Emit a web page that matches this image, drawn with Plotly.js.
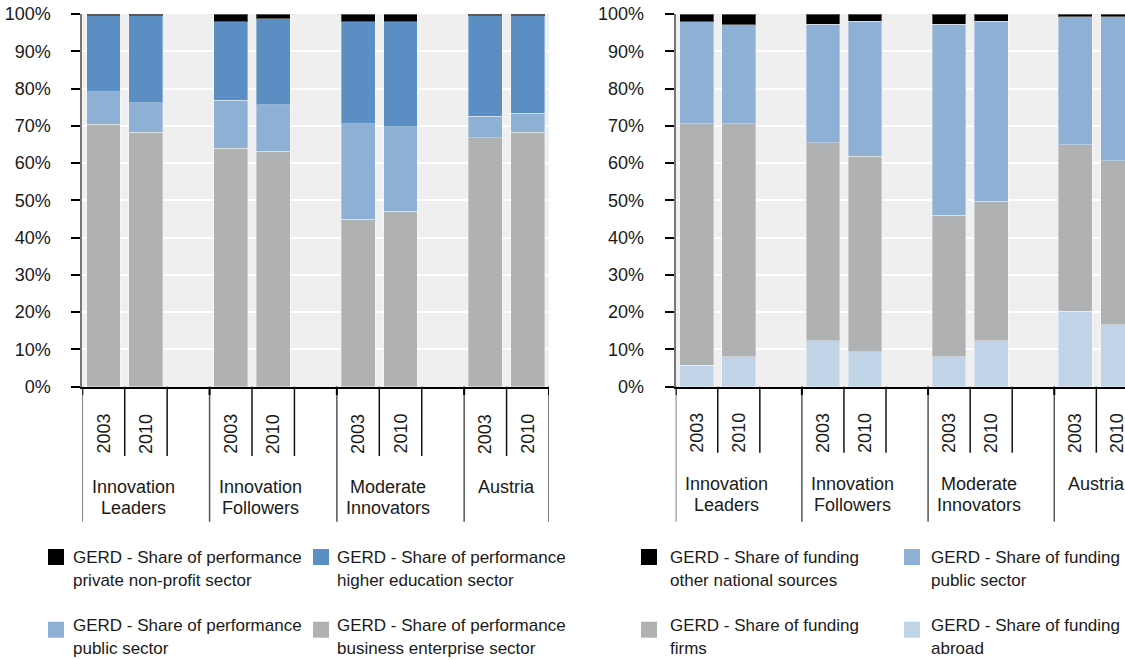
<!DOCTYPE html>
<html>
<head>
<meta charset="utf-8">
<script src="https://cdn.plot.ly/plotly-3.0.1.min.js"></script>
<style>
html, body { margin: 0; padding: 0; overflow: hidden; background: #ffffff; }
#chart { width: 1140px; height: 660px; }
</style>
</head>
<body>
<div id="chart"></div>
<script>
// ---------------- DATA ----------------
const groupLabels = [['Innovation', 'Leaders'], ['Innovation', 'Followers'], ['Moderate', 'Innovators'], ['Austria']];
const years = ['2003', '2010'];

// Left chart: GERD - share of performance (%)
const perfBusiness  = [70.4, 68.3, 64.0, 63.2, 44.9, 47.1, 66.8, 68.3];
const perfPublic    = [8.7, 7.9, 12.9, 12.4, 25.6, 22.6, 5.8, 5.1];
const perfHigherEd  = [20.4, 23.3, 21.0, 23.1, 27.4, 28.2, 26.9, 26.1];
const perfPrivateNP = [0.5, 0.5, 2.1, 1.3, 2.1, 2.1, 0.5, 0.5];

// Right chart: GERD - share of funding (%)
const fundAbroad = [5.8, 8.0, 12.3, 9.4, 8.0, 12.3, 20.3, 16.6];
const fundFirms  = [64.7, 62.5, 53.1, 52.5, 38.0, 37.5, 44.6, 44.0];
const fundPublic = [27.4, 26.6, 31.8, 36.1, 51.2, 48.2, 34.4, 38.7];
const fundOther  = [2.1, 2.9, 2.8, 2.0, 2.8, 2.0, 0.7, 0.7];

const yTickVals = [0, 10, 20, 30, 40, 50, 60, 70, 80, 90, 100];
const yTickText = ['0%', '10%', '20%', '30%', '40%', '50%', '60%', '70%', '80%', '90%', '100%'];

const leftLegend = [
  ['GERD - Share of performance', 'private non-profit sector', '#000000'],
  ['GERD - Share of performance', 'higher education sector', '#5b8ec3'],
  ['GERD - Share of performance', 'public sector', '#8fb0d5'],
  ['GERD - Share of performance', 'business enterprise sector', '#b0b1b3']
];
const rightLegend = [
  ['GERD - Share of funding', 'other national sources', '#000000'],
  ['GERD - Share of funding', 'public sector', '#8fb0d5'],
  ['GERD - Share of funding', 'firms', '#b0b1b3'],
  ['GERD - Share of funding', 'abroad', '#c0d3e7']
];

// ---------------- LAYOUT HELPERS ----------------
const W = 1140, H = 660;
const px = v => v / W;
const py = v => 1 - v / H;
const FONT = "'Liberation Sans', Arial, sans-serif";
const FS = 17;
const TXT = '#1a1a1a';

const COL = { black: '#000000', dblue: '#5b8ec3', mblue: '#8fb0d5', gray: '#b0b1b3', lblue: '#c0d3e7' };

// slot position of each bar: group*3 + yearIndex
const xpos = [];
const xyear = [];
groupLabels.forEach((g, gi) => years.forEach((y, yi) => { xpos.push(gi * 3 + yi); xyear.push(y); }));

function bar(vals, color, name, xa, ya) {
  return {
    type: 'bar', x: xpos, y: vals, name: name, xaxis: xa, yaxis: ya,
    width: 0.8, showlegend: false, hoverinfo: 'skip',
    marker: { color: color, line: { color: 'rgba(255,255,255,0.35)', width: 1 } }
  };
}

const traces = [
  bar(perfBusiness, COL.gray, 'business enterprise sector', 'x', 'y'),
  bar(perfPublic, COL.mblue, 'public sector', 'x', 'y'),
  bar(perfHigherEd, COL.dblue, 'higher education sector', 'x', 'y'),
  bar(perfPrivateNP, COL.black, 'private non-profit sector', 'x', 'y'),
  bar(fundAbroad, COL.lblue, 'abroad', 'x2', 'y2'),
  bar(fundFirms, COL.gray, 'firms', 'x2', 'y2'),
  bar(fundPublic, COL.mblue, 'public sector', 'x2', 'y2'),
  bar(fundOther, COL.black, 'other national sources', 'x2', 'y2')
];

const plotTop = 14, plotBottom = 386.7;
const leftX = [82.3, 549], rightX = [675.7, 1138.4];

function xaxisDef(dom, anchor) {
  return {
    domain: [px(dom[0]), px(dom[1])], range: [-0.5, 10.5], anchor: anchor,
    showticklabels: false, ticks: '', showgrid: false, zeroline: false,
    showline: true, linecolor: '#000000', linewidth: 2, fixedrange: true
  };
}
function yaxisDef(anchor) {
  return {
    domain: [py(plotBottom), py(plotTop)], range: [0, 100], anchor: anchor,
    tickmode: 'array', tickvals: yTickVals, ticktext: yTickText,
    ticks: 'outside', ticklen: 9, tickwidth: 2,
    tickcolor: '#000000', ticklabelstandoff: 17,
    showline: true, linecolor: '#777777', linewidth: 2,
    showgrid: true, gridcolor: '#ffffff', gridwidth: 2, zeroline: false,
    tickfont: { family: FONT, size: FS + 1, color: TXT }, fixedrange: true
  };
}

const shapes = [];
const annotations = [];

function decorate(xa, topY) {
  const longB = [-0.5, 2.5, 5.5, 8.5, 10.5];
  const shortB = [0.5, 1.5, 3.5, 4.5, 6.5, 7.5, 9.5];
  longB.forEach(b => {
    shapes.push({ type: 'line', xref: xa, yref: 'paper', x0: b, x1: b, y0: py(plotBottom), y1: py(521.7),
      line: { color: '#555555', width: 1.5 } });
    shapes.push({ type: 'line', xref: xa, yref: 'paper', x0: b, x1: b, y0: py(plotBottom), y1: py(395),
      line: { color: '#000000', width: 2 } });
  });
  shortB.forEach(b => {
    shapes.push({ type: 'line', xref: xa, yref: 'paper', x0: b, x1: b, y0: py(plotBottom), y1: py(topY.short),
      line: { color: '#111111', width: 1.5 } });
  });
  xpos.forEach((x, i) => {
    annotations.push({ xref: xa, yref: 'paper', x: x, y: py(topY.year), text: xyear[i], textangle: -90,
      showarrow: false, xanchor: 'center', yanchor: 'middle', font: { family: FONT, size: FS + 1, color: TXT } });
  });
  groupLabels.forEach((lines, gi) => {
    const center = gi * 3 + 0.5 + (gi < 3 ? 0.2 : 0);
    lines.forEach((t, li) => {
      annotations.push({ xref: xa, yref: 'paper', x: center, y: py(topY.group[li]), text: t,
        showarrow: false, xanchor: 'center', yanchor: 'middle', font: { family: FONT, size: FS + 1, color: TXT } });
    });
  });
}
decorate('x', { short: 456, year: 434, group: [487, 508] });
decorate('x2', { short: 452.7, year: 433, group: [483.5, 505] });

function legend(items, cols) {
  const rows = [[549, 557.7, 580], [621.7, 625.7, 648]];
  items.forEach((it, i) => {
    const c = cols[i % 2];
    const r = rows[Math.floor(i / 2)];
    shapes.push({ type: 'rect', xref: 'paper', yref: 'paper', x0: px(c[0]), x1: px(c[0] + 16),
      y0: py(r[0]), y1: py(r[0] + 16), fillcolor: it[2], line: { width: 0 } });
    [it[0], it[1]].forEach((t, li) => {
      annotations.push({ xref: 'paper', yref: 'paper', x: px(c[1]), y: py(r[1 + li]), text: t,
        showarrow: false, xanchor: 'left', yanchor: 'middle', font: { family: FONT, size: FS, color: TXT } });
    });
  });
}
legend(leftLegend, [[48, 71], [313, 335]]);
legend(rightLegend, [[641, 668], [904, 929]]);

const layout = {
  width: W, height: H,
  margin: { l: 0, r: 0, t: 0, b: 0 },
  paper_bgcolor: '#ffffff',
  plot_bgcolor: '#efefef',
  barmode: 'stack',
  showlegend: false,
  font: { family: FONT, size: FS, color: TXT },
  xaxis: xaxisDef(leftX, 'y'),
  yaxis: yaxisDef('x'),
  xaxis2: xaxisDef(rightX, 'y2'),
  yaxis2: yaxisDef('x2'),
  shapes: shapes,
  annotations: annotations
};

Plotly.newPlot('chart', traces, layout, { displayModeBar: false, staticPlot: true });
</script>
</body>
</html>
